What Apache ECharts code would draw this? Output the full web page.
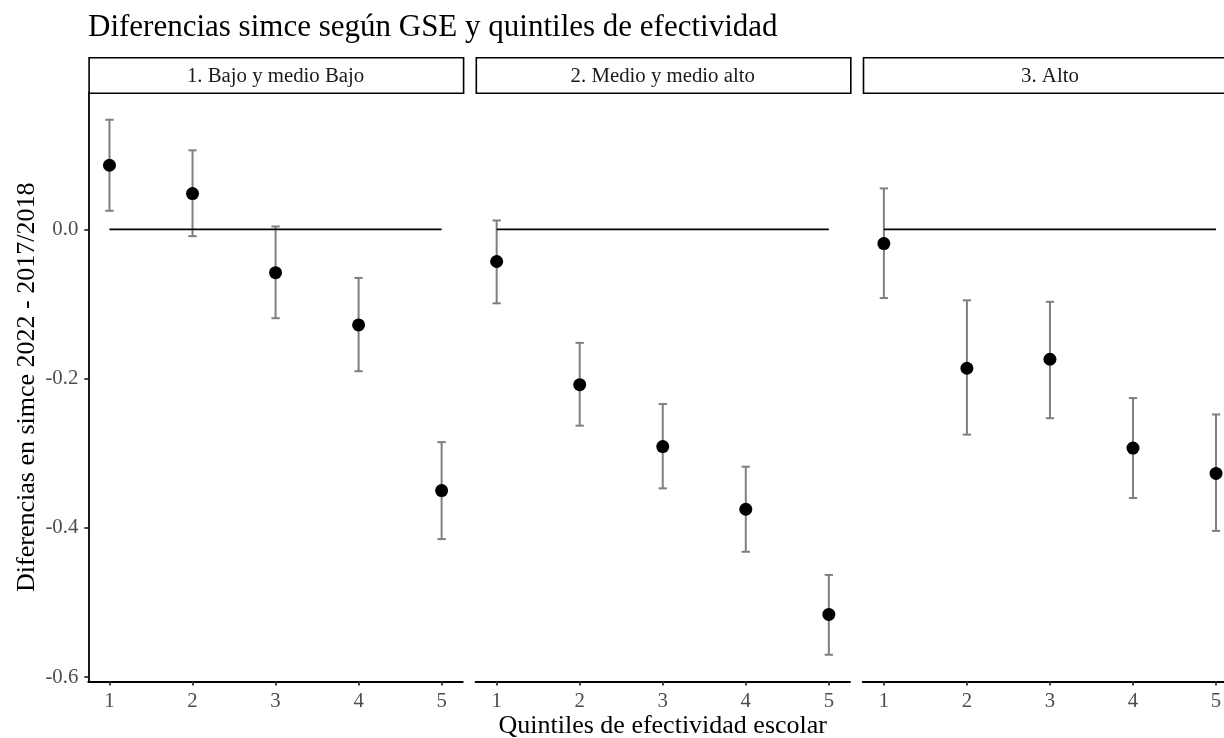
<!DOCTYPE html>
<html>
<head>
<meta charset="utf-8">
<script src="https://cdn.jsdelivr.net/npm/echarts@6/dist/echarts.min.js"></script>
<style>
html,body{margin:0;padding:0;background:#fff;}
#chart{width:1224px;height:738px;}
</style>
</head>
<body>
<div id="chart"></div>
<script>
// ---- data ----
const quintiles = [1, 2, 3, 4, 5];
const panelNames = ['1. Bajo y medio Bajo', '2. Medio y medio alto', '3. Alto'];
const est1 = [0.086, 0.048, -0.058, -0.128, -0.350];
const lo1  = [0.025, -0.009, -0.119, -0.190, -0.415];
const hi1  = [0.147, 0.106, 0.004, -0.065, -0.285];
const est2 = [-0.043, -0.208, -0.291, -0.375, -0.516];
const lo2  = [-0.099, -0.263, -0.347, -0.432, -0.570];
const hi2  = [0.012, -0.152, -0.234, -0.318, -0.463];
const est3 = [-0.019, -0.186, -0.174, -0.293, -0.327];
const lo3  = [-0.092, -0.275, -0.253, -0.360, -0.404];
const hi3  = [0.055, -0.095, -0.097, -0.226, -0.248];
const yTicks = [-0.6, -0.4, -0.2, 0.0];
const yTickLabels = ['-0.6', '-0.4', '-0.2', '0.0'];
const xTickLabels = ['1', '2', '3', '4', '5'];
const titleText = 'Diferencias simce según GSE y quintiles de efectividad';
const yTitle = 'Diferencias en simce 2022 - 2017/2018';
const xTitle = 'Quintiles de efectividad escolar';

const ests = [est1, est2, est3];
const los = [lo1, lo2, lo3];
const his = [hi1, hi2, hi3];

// ---- scales (ggplot-like 5% expansion) ----
const capHalf = 0.05;
const allLo = [].concat(lo1, lo2, lo3), allHi = [].concat(hi1, hi2, hi3);
const yLo = Math.min.apply(null, allLo), yHi = Math.max.apply(null, allHi);
const yRange = yHi - yLo;
const yMin = yLo - 0.05 * yRange, yMax = yHi + 0.05 * yRange;
const xLo = quintiles[0] - capHalf, xHi = quintiles[quintiles.length - 1] + capHalf;
const xMin = xLo - 0.05 * (xHi - xLo), xMax = xHi + 0.05 * (xHi - xLo);

// ---- layout ----
const FONT = '"Liberation Serif", "Times New Roman", serif';
const panelLeft0 = 88.3, panelW = 374.5, panelStep = 387.2;
const panelTop = 93, panelH = 588.5;
const stripTop = 57, stripH = 35.5;

const grids = [], xAxes = [], yAxes = [], series = [], graphics = [];
for (let p = 0; p < 3; p++) {
  const left = panelLeft0 + p * panelStep;
  grids.push({ left: left, top: panelTop, width: panelW, height: panelH,
    containLabel: false, outerBoundsMode: 'none' });
  xAxes.push({
    type: 'value', gridIndex: p, min: xMin, max: xMax,
    axisLine: { show: true, onZero: false, lineStyle: { color: '#000', width: 1.8 } },
    axisTick: { show: true, length: 4, lineStyle: { color: '#333', width: 1.8 }, customValues: quintiles },
    axisLabel: { show: true, customValues: quintiles, formatter: v => xTickLabels[quintiles.indexOf(Math.round(v))],
      fontFamily: FONT, fontSize: 20.8, color: '#4D4D4D', margin: 10 },
    splitLine: { show: false },
    name: p === 1 ? xTitle : '', nameLocation: 'middle', nameGap: 32, nameMoveOverlap: false,
    nameTextStyle: { fontFamily: FONT, fontSize: 26, color: '#000' }
  });
  yAxes.push({
    type: 'value', gridIndex: p, min: yMin, max: yMax,
    axisLine: { show: p === 0, onZero: false, lineStyle: { color: '#000', width: 1.8 } },
    axisTick: { show: p === 0, length: 4, lineStyle: { color: '#333', width: 1.8 }, customValues: yTicks },
    axisLabel: { show: p === 0, customValues: yTicks, formatter: v => {
        const i = yTicks.findIndex(t => Math.abs(t - v) < 1e-9); return i >= 0 ? yTickLabels[i] : ''; },
      fontFamily: FONT, fontSize: 20.8, color: '#4D4D4D', margin: 10 },
    splitLine: { show: false },
    name: p === 0 ? yTitle : '', nameLocation: 'middle', nameGap: 48, nameMoveOverlap: false,
    nameTextStyle: { fontFamily: FONT, fontSize: 26, color: '#000' }
  });
  // error bars
  series.push({
    type: 'custom', xAxisIndex: p, yAxisIndex: p, z: 2,
    data: quintiles.map((q, i) => [q, los[p][i], his[p][i]]),
    renderItem: function (params, api) {
      const x = api.value(0), lo = api.value(1), hi = api.value(2);
      const pLo = api.coord([x, lo]), pHi = api.coord([x, hi]);
      const cL = api.coord([x - capHalf, hi]), cR = api.coord([x + capHalf, hi]);
      const style = { stroke: '#7F7F7F', lineWidth: 2, fill: null };
      return { type: 'group', children: [
        { type: 'line', shape: { x1: pLo[0], y1: pLo[1], x2: pHi[0], y2: pHi[1] }, style: style },
        { type: 'line', shape: { x1: cL[0], y1: pHi[1], x2: cR[0], y2: pHi[1] }, style: style },
        { type: 'line', shape: { x1: cL[0], y1: pLo[1], x2: cR[0], y2: pLo[1] }, style: style }
      ]};
    },
    clip: false, silent: true, animation: false
  });
  // zero line
  series.push({
    type: 'line', xAxisIndex: p, yAxisIndex: p, z: 3,
    data: [[quintiles[0], 0], [quintiles[quintiles.length - 1], 0]],
    symbol: 'none', lineStyle: { color: '#000', width: 1.8 }, silent: true, animation: false
  });
  // points
  series.push({
    type: 'scatter', xAxisIndex: p, yAxisIndex: p, z: 4,
    data: quintiles.map((q, i) => [q, ests[p][i]]),
    symbolSize: 13, itemStyle: { color: '#000', opacity: 1 }, silent: true, animation: false
  });
  // strip
  graphics.push({
    type: 'rect', left: left, top: stripTop,
    shape: { width: panelW, height: stripH },
    style: { fill: '#fff', stroke: '#000', lineWidth: 1.6 }, silent: true
  });
  graphics.push({
    type: 'text', x: left + panelW / 2, y: stripTop + stripH / 2 + 2,
    style: { text: panelNames[p], font: '20.8px ' + FONT, fill: '#1A1A1A', align: 'center', verticalAlign: 'middle' },
    silent: true
  });
}

const chart = echarts.init(document.getElementById('chart'), null, { renderer: 'canvas' });
chart.setOption({
  backgroundColor: '#fff',
  animation: false,
  title: { text: titleText, left: 88, top: 12, padding: 0,
    textStyle: { fontFamily: FONT, fontSize: 31, fontWeight: 'normal', color: '#000' } },
  grid: grids, xAxis: xAxes, yAxis: yAxes, series: series,
  graphic: graphics
});
</script>
</body>
</html>
